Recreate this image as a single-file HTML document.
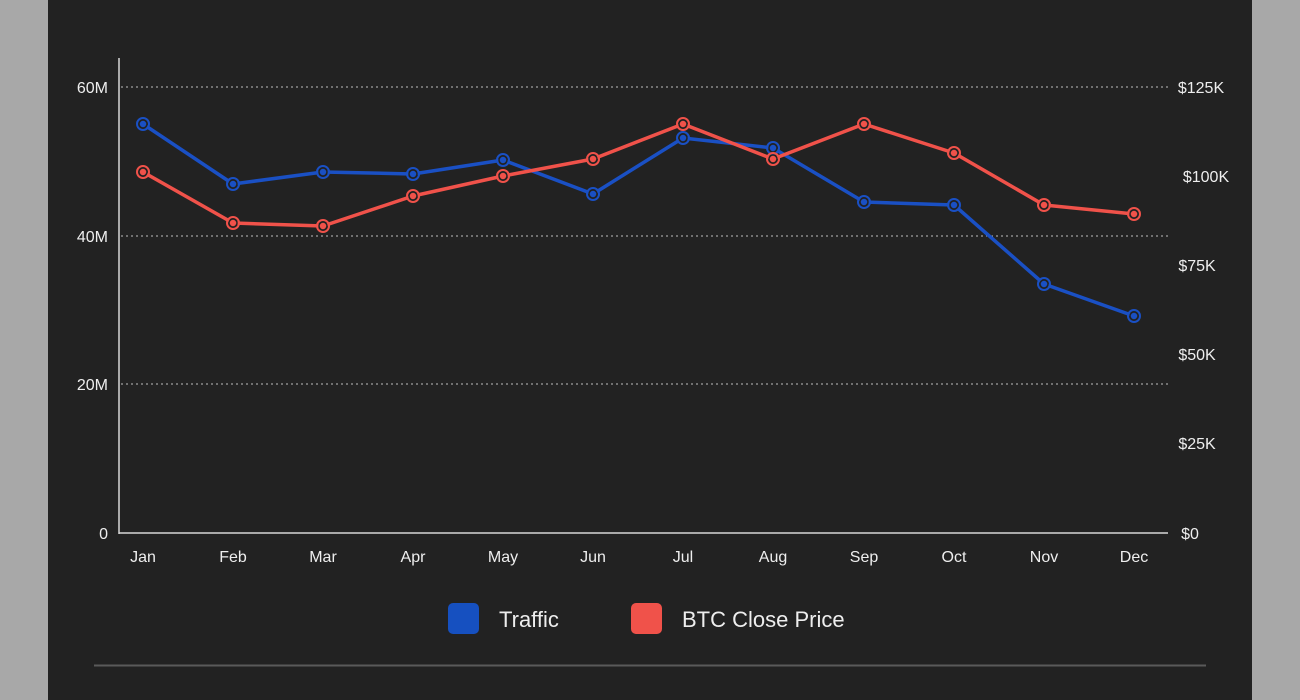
<!DOCTYPE html>
<html><head><meta charset="utf-8"><style>
html,body{margin:0;padding:0;background:#a8a8a8;width:1300px;height:700px;overflow:hidden;font-family:"Liberation Sans",sans-serif;position:relative}
.card{position:absolute;left:48px;top:-14px;width:1204px;height:714px;background:#222222;border-radius:14px 14px 0 0}
svg{position:absolute;left:0;top:0}
</style></head><body>
<div class="card"></div>
<svg width="1300" height="700" font-family="Liberation Sans, sans-serif">
<g stroke="#bdbdbd" stroke-width="1" stroke-dasharray="2,3">
<line x1="121" y1="87" x2="1168" y2="87"/>
<line x1="121" y1="236" x2="1168" y2="236"/>
<line x1="121" y1="384" x2="1168" y2="384"/>
</g>
<line x1="119" y1="58" x2="119" y2="534" stroke="#d8d8d8" stroke-width="1.5"/>
<line x1="119" y1="533" x2="1168" y2="533" stroke="#d8d8d8" stroke-width="1.5"/>
<g fill="#eeeeee" font-size="16" text-anchor="end">
<text x="108" y="93">60M</text><text x="108" y="242">40M</text><text x="108" y="390">20M</text><text x="108" y="539">0</text>
</g>
<g fill="#eeeeee" font-size="16" text-anchor="middle">
<text x="1201" y="93">$125K</text><text x="1206" y="182">$100K</text><text x="1197" y="271">$75K</text><text x="1197" y="360">$50K</text><text x="1197" y="449">$25K</text><text x="1190" y="539">$0</text>
</g>
<g fill="#eeeeee" font-size="16" text-anchor="middle">
<text x="143" y="562">Jan</text><text x="233" y="562">Feb</text><text x="323" y="562">Mar</text><text x="413" y="562">Apr</text><text x="503" y="562">May</text><text x="593" y="562">Jun</text><text x="683" y="562">Jul</text><text x="773" y="562">Aug</text><text x="864" y="562">Sep</text><text x="954" y="562">Oct</text><text x="1044" y="562">Nov</text><text x="1134" y="562">Dec</text>
</g>
<polyline fill="none" stroke="#1a50c4" stroke-width="3.5" stroke-linejoin="round" points="143,124 233,184 323,172 413,174 503,160 593,194 683,138 773,148 864,202 954,205 1044,284 1134,316"/>
<polyline fill="none" stroke="#f0524a" stroke-width="3.5" stroke-linejoin="round" points="143,172 233,223 323,226 413,196 503,176 593,159 683,124 773,159 864,124 954,153 1044,205 1134,214"/>
<g fill="none" stroke="#1a50c4" stroke-width="2">
<circle cx="143" cy="124" r="6"/><circle cx="233" cy="184" r="6"/><circle cx="323" cy="172" r="6"/><circle cx="413" cy="174" r="6"/><circle cx="503" cy="160" r="6"/><circle cx="593" cy="194" r="6"/><circle cx="683" cy="138" r="6"/><circle cx="773" cy="148" r="6"/><circle cx="864" cy="202" r="6"/><circle cx="954" cy="205" r="6"/><circle cx="1044" cy="284" r="6"/><circle cx="1134" cy="316" r="6"/>
</g>
<g stroke="#222" stroke-width="1.5" fill="#1a50c4">
<circle cx="143" cy="124" r="4"/><circle cx="233" cy="184" r="4"/><circle cx="323" cy="172" r="4"/><circle cx="413" cy="174" r="4"/><circle cx="503" cy="160" r="4"/><circle cx="593" cy="194" r="4"/><circle cx="683" cy="138" r="4"/><circle cx="773" cy="148" r="4"/><circle cx="864" cy="202" r="4"/><circle cx="954" cy="205" r="4"/><circle cx="1044" cy="284" r="4"/><circle cx="1134" cy="316" r="4"/>
</g>
<g fill="none" stroke="#f0524a" stroke-width="2">
<circle cx="143" cy="172" r="6"/><circle cx="233" cy="223" r="6"/><circle cx="323" cy="226" r="6"/><circle cx="413" cy="196" r="6"/><circle cx="503" cy="176" r="6"/><circle cx="593" cy="159" r="6"/><circle cx="683" cy="124" r="6"/><circle cx="773" cy="159" r="6"/><circle cx="864" cy="124" r="6"/><circle cx="954" cy="153" r="6"/><circle cx="1044" cy="205" r="6"/><circle cx="1134" cy="214" r="6"/>
</g>
<g stroke="#222" stroke-width="1.5" fill="#f0524a">
<circle cx="143" cy="172" r="4"/><circle cx="233" cy="223" r="4"/><circle cx="323" cy="226" r="4"/><circle cx="413" cy="196" r="4"/><circle cx="503" cy="176" r="4"/><circle cx="593" cy="159" r="4"/><circle cx="683" cy="124" r="4"/><circle cx="773" cy="159" r="4"/><circle cx="864" cy="124" r="4"/><circle cx="954" cy="153" r="4"/><circle cx="1044" cy="205" r="4"/><circle cx="1134" cy="214" r="4"/>
</g>
<rect x="448" y="603" width="31" height="31" rx="5" fill="#1650c0"/>
<text x="499" y="627" fill="#eeeeee" font-size="22">Traffic</text>
<rect x="631" y="603" width="31" height="31" rx="5" fill="#f0524a"/>
<text x="682" y="627" fill="#eeeeee" font-size="22">BTC Close Price</text>
<line x1="94" y1="665.5" x2="1206" y2="665.5" stroke="#5a5a5a" stroke-width="2"/>
</svg>
</body></html>
